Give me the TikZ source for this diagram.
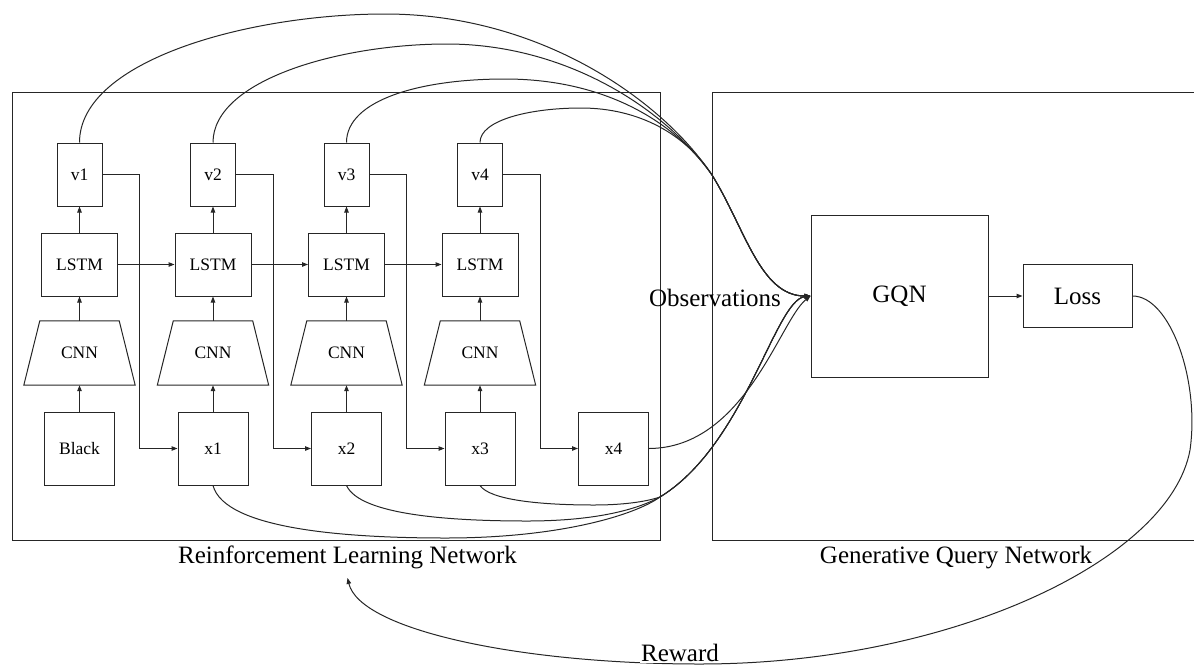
\documentclass[tikz,border=0pt]{standalone}
\usepackage{fontspec}
\setmainfont{Liberation Serif}
\usetikzlibrary{arrows.meta}
\tikzset{
  ln/.style={line width=1pt, draw=black!85},
  arr/.style={ln, -{Triangle[length=6pt,width=4.5pt]}},
  box/.style={ln, draw, rectangle, inner sep=0pt},
  small/.style={font=\fontsize{17.5}{20}\selectfont},
  big/.style={font=\fontsize{25}{29}\selectfont},
  vbox/.style={box, small, minimum width=45pt, minimum height=63pt},
  lstm/.style={box, small, minimum width=76pt, minimum height=63pt},
  cnn/.style={small, inner sep=0pt, minimum width=79pt, minimum height=64pt},
  xbox/.style={box, small, minimum width=70pt, minimum height=73pt},
}
\begin{document}
\begin{tikzpicture}[x=1pt,y=-1pt]
\useasboundingbox (0,0) rectangle (1194,665);
% containers
\node[box, minimum width=648pt, minimum height=448pt] (rl) at (336,316) {};
\node[box, minimum width=490pt, minimum height=448pt] (gq) at (957,316) {};
\node[big, anchor=base] (rllab) at (347.5,563) {Reinforcement Learning Network};
\node[big, anchor=base] (gqlab) at (956,563) {Generative Query Network};
% columns
\node[vbox] (v1) at (79.5,174.5) {v1};
\node[vbox] (v2) at (213,174.5) {v2};
\node[vbox] (v3) at (346.5,174.5) {v3};
\node[vbox] (v4) at (480,174.5) {v4};
\node[lstm] (l1) at (79.5,264.5) {LSTM};
\node[lstm] (l2) at (213,264.5) {LSTM};
\node[lstm] (l3) at (346.5,264.5) {LSTM};
\node[lstm] (l4) at (480,264.5) {LSTM};
\node[cnn] (c1) at (79.5,353) {CNN};
\node[cnn] (c2) at (213,353) {CNN};
\node[cnn] (c3) at (346.5,353) {CNN};
\node[cnn] (c4) at (480,353) {CNN};
\foreach \n in {c1,c2,c3,c4}
  \draw[ln, line join=miter] (\n.north west) -- (\n.north east) -- ([xshift=16pt]\n.south east) -- ([xshift=-16pt]\n.south west) -- cycle;
\node[xbox] (bk) at (79.5,448.5) {Black};
\node[xbox] (x1) at (213,448.5) {x1};
\node[xbox] (x2) at (346.5,448.5) {x2};
\node[xbox] (x3) at (480,448.5) {x3};
\node[xbox] (x4) at (613.5,448.5) {x4};
% right side
\node[box, big, minimum width=177pt, minimum height=162pt] (gqn) at (899.5,296) {GQN};
\node[box, big, minimum width=109pt, minimum height=63pt] (loss) at (1077.5,296) {Loss};
% vertical arrows
\draw[arr] (bk.north) -- (c1.south);
\draw[arr] (x1.north) -- (c2.south);
\draw[arr] (x2.north) -- (c3.south);
\draw[arr] (x3.north) -- (c4.south);
\foreach \i in {1,2,3,4} {
  \draw[arr] (c\i.north) -- (l\i.south);
  \draw[arr] (l\i.north) -- (v\i.south);
}
\draw[arr] (l1.east) -- (l2.west);
\draw[arr] (l2.east) -- (l3.west);
\draw[arr] (l3.east) -- (l4.west);
% v -> x
\draw[arr] (v1.east) -- ([xshift=37pt]v1.east) |- (x1.west);
\draw[arr] (v2.east) -- ([xshift=37pt]v2.east) |- (x2.west);
\draw[arr] (v3.east) -- ([xshift=37pt]v3.east) |- (x3.west);
\draw[arr] (v4.east) -- ([xshift=37pt]v4.east) |- (x4.west);
% observations to GQN
\draw[arr] (v1.north) .. controls (79.5,60) and (250,14) .. (385,14) .. controls (540,14) and (662,100) .. (712,175) .. controls (745,228) and (760,296) .. (gqn.west);
\draw[arr] (v2.north) .. controls (213,80) and (340,44) .. (447,44) .. controls (565,44) and (665,108) .. (712,175) .. controls (745,228) and (760,296) .. (gqn.west);
\draw[arr] (v3.north) .. controls (346.5,100) and (420,79) .. (505,79) .. controls (600,79) and (672,118) .. (712,175) .. controls (745,228) and (760,296) .. (gqn.west);
\draw[arr] (v4.north) .. controls (480,120) and (530,108) .. (581,108) .. controls (640,108) and (686,135) .. (712,175) .. controls (745,228) and (760,296) .. (gqn.west);
\draw[arr] (x1.south) .. controls (225,530) and (350,538) .. (446,538) .. controls (560,538) and (635,515) .. (660,497) .. controls (745,445) and (775,300) .. (gqn.west);
\draw[arr] (x2.south) .. controls (360,515) and (450,521) .. (527,521) .. controls (600,521) and (640,508) .. (660,497) .. controls (745,445) and (775,300) .. (gqn.west);
\draw[arr] (x3.south) .. controls (490,500) and (540,505) .. (594,505) .. controls (622,505) and (645,502) .. (660,497) .. controls (745,445) and (775,300) .. (gqn.west);
\draw[arr] (x4.east) .. controls (745,448) and (780,320) .. (gqn.west);
\node[big, anchor=base] (obs) at (715,306) {Observations};
% loss
\draw[arr] (gqn.east) -- (loss.west);
\draw[arr] (loss.east) .. controls (1170,296) and (1200,380) .. (1190,450) .. controls (1170,560) and (950,664) .. (700,664) .. controls (520,664) and (360,630) .. ([yshift=-6pt]rllab.south);
\node[big, fill=white, inner sep=1pt] (rew) at (680,653) {Reward};
\end{tikzpicture}
\end{document}
